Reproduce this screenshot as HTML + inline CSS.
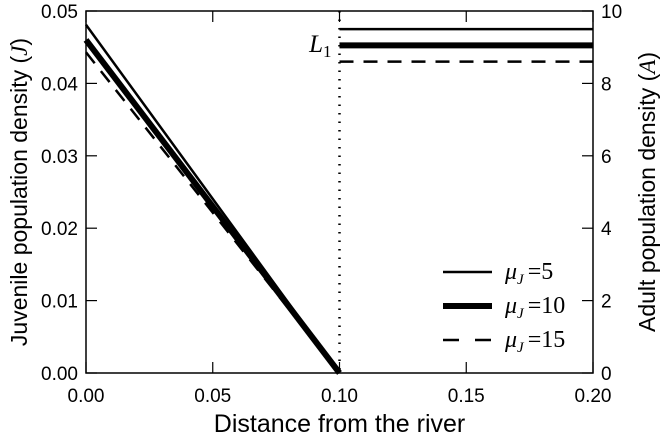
<!DOCTYPE html>
<html><head><meta charset="utf-8"><style>
html,body{margin:0;padding:0;background:#fff;}
svg{display:block;font-family:"Liberation Sans",sans-serif;}
</style></head><body>
<svg id="chart" width="664" height="440" viewBox="0 0 664 440"></svg>
<script>
const xTicks=[0,0.05,0.10,0.15,0.20];
const xTickLabels=["0.00","0.05","0.10","0.15","0.20"];
const yLeftTicks=[0,0.01,0.02,0.03,0.04,0.05];
const yLeftTickLabels=["0.00","0.01","0.02","0.03","0.04","0.05"];
const yRightTicks=[0,2,4,6,8,10];
const yRightTickLabels=["0","2","4","6","8","10"];
const seriesNames=["5","10","15"];
const juvenileStart=[0.0481,0.0460,0.0443];
const juvenileEndX=[0.10,0.10,0.10];
const adultValues=[9.5,9.05,8.6];
const boundaryL1=0.10;

const L=86,R=593,T=11,B=373;
const sx=v=>L+(v-0)/(0.20)*(R-L);
const syL=v=>B-v/0.05*(B-T);
const syR=v=>B-v/10*(B-T);
const svg=document.getElementById('chart');
const NS="http://www.w3.org/2000/svg";
function mk(tag,attrs,txt){const e=document.createElementNS(NS,tag);for(const k in attrs)e.setAttribute(k,attrs[k]);if(txt!==undefined)e.textContent=txt;svg.appendChild(e);return e;}
const styles=[{w:2.5,d:""},{w:6,d:""},{w:2.5,d:"14,10"}];

for(let i=0;i<seriesNames.length;i++){
  const s=styles[i];
  const j=mk('line',{x1:sx(0),y1:syL(juvenileStart[i]),x2:sx(juvenileEndX[i]),y2:syL(0),stroke:'#000','stroke-width':s.w,'stroke-dasharray':s.d});
  
  
  const a=mk('line',{x1:sx(boundaryL1),y1:syR(adultValues[i]),x2:sx(0.20),y2:syR(adultValues[i]),stroke:'#000','stroke-width':s.w,'stroke-dasharray':s.d});
  
  
}
const bl=mk('line',{x1:sx(boundaryL1),y1:T,x2:sx(boundaryL1),y2:B,stroke:'#000','stroke-width':2.5,'stroke-dasharray':'1.5,7'});


const l1=mk('text',{x:sx(boundaryL1)-8,y:52,'text-anchor':'end','font-family':'Liberation Serif,serif','font-style':'italic','font-size':25});
l1.innerHTML='L<tspan font-style="normal" font-size="17" dy="5">1</tspan>';



const fr=mk('rect',{x:L,y:T,width:R-L,height:B-T,fill:'none',stroke:'#000','stroke-width':1.5});



xTicks.forEach((v,i)=>{
  mk('line',{x1:sx(v),y1:B,x2:sx(v),y2:B-11,stroke:'#000','stroke-width':1.2});
  mk('line',{x1:sx(v),y1:T,x2:sx(v),y2:T+11,stroke:'#000','stroke-width':1.2});
  const t=mk('text',{x:sx(v),y:402,'text-anchor':'middle','font-size':19},xTickLabels[i]);
  
  
});
yLeftTicks.forEach((v,i)=>{
  mk('line',{x1:L,y1:syL(v),x2:L+11,y2:syL(v),stroke:'#000','stroke-width':1.2});
  const t=mk('text',{x:L-8,y:syL(v)+7,'text-anchor':'end','font-size':19},yLeftTickLabels[i]);
  
  
});
yRightTicks.forEach((v,i)=>{
  mk('line',{x1:R,y1:syR(v),x2:R-11,y2:syR(v),stroke:'#000','stroke-width':1.2});
  const t=mk('text',{x:R+8,y:syR(v)+7,'text-anchor':'start','font-size':19},yRightTickLabels[i]);
  
  
});

const xt=mk('text',{x:(L+R)/2,y:432,'text-anchor':'middle','font-size':25},'Distance from the river');


const yt=mk('text',{transform:'translate(27,'+((T+B)/2)+') rotate(-90)','text-anchor':'middle','font-size':23});
yt.innerHTML='Juvenile population density (<tspan font-family="Liberation Serif,serif" font-style="italic">J</tspan>)';


const yr=mk('text',{transform:'translate(655,'+((T+B)/2)+') rotate(-90)','text-anchor':'middle','font-size':23});
yr.innerHTML='Adult population density (<tspan font-family="Liberation Serif,serif" font-style="italic">A</tspan>)';



const legY=[272,306,340];
seriesNames.forEach((n,i)=>{
  const s=styles[i];
  const ln=mk('line',{x1:443,y1:legY[i],x2:492,y2:legY[i],stroke:'#000','stroke-width':s.w,'stroke-dasharray':i==2?'16,16':''});
  
  
  const t=mk('text',{x:505,y:legY[i]+7,'font-family':'Liberation Serif,serif','font-size':24});
  t.innerHTML='<tspan font-style="italic">μ</tspan><tspan font-style="italic" font-size="15" dy="5">J</tspan><tspan dy="-5" dx="4">=' + n + '</tspan>';
  
  
});
</script>
</body></html>
